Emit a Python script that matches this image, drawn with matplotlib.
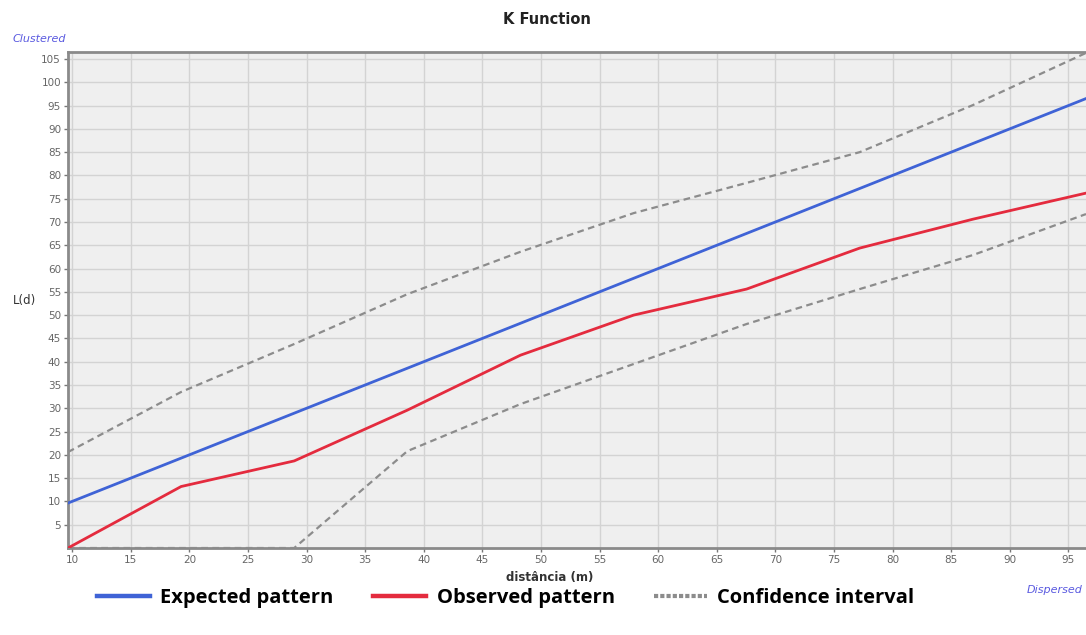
import matplotlib
matplotlib.use("Agg")
import matplotlib.pyplot as plt
from matplotlib.lines import Line2D

distance = [9.65, 19.3, 28.95, 38.6, 48.25, 57.9, 67.55, 77.2, 86.85, 96.5]
expected = [9.65, 19.3, 28.95, 38.6, 48.25, 57.9, 67.55, 77.2, 86.85, 96.5]
observed = [0.0, 13.2, 18.7, 29.6, 41.4, 50.0, 55.6, 64.4, 70.6, 76.2]
ci_upper = [20.6, 33.5, 43.8, 54.5, 63.6, 71.9, 78.4, 85.0, 95.1, 106.3]
ci_lower = [0.0, 0.0, 0.0, 20.8, 30.9, 39.5, 48.1, 55.6, 62.9, 71.7]
x_ticks = list(range(10, 100, 5))
y_ticks = list(range(5, 110, 5))

fig = plt.figure(figsize=(10.86, 6.35), dpi=100)
ax = fig.add_axes([68/1086, 87/635, 1018/1086, 496/635])
ax.set_facecolor("#efefef")

ax.plot(distance, ci_upper, color="#8c8c8c", lw=1.6, ls=(0, (3, 2)), zorder=3, clip_on=False)
ax.plot(distance, ci_lower, color="#8c8c8c", lw=1.6, ls=(0, (3, 2)), zorder=3)
ax.plot(distance, expected, color="#3f63d6", lw=2.0, zorder=4)
ax.plot(distance, observed, color="#e42b3e", lw=2.0, zorder=4)

ax.set_xlim(9.65, 96.5)
ax.set_ylim(0, 106.5)
ax.set_xticks(x_ticks)
ax.set_yticks(y_ticks)
ax.grid(True, color="#d3d3d3", lw=1.0, zorder=0)
ax.set_axisbelow(True)
ax.tick_params(axis="both", labelsize=7.5, colors="#777777", length=3, width=1, pad=2)
for lab in ax.get_xticklabels() + ax.get_yticklabels():
    lab.set_color("#666666")
for s in ["left", "bottom", "top"]:
    ax.spines[s].set_color("#8a8a8a")
    ax.spines[s].set_linewidth(2.0)
ax.spines["right"].set_visible(False)

fig.text(547/1086, 1 - 19/635, "K Function", ha="center", va="center",
         fontsize=10.5, fontweight="bold", color="#222222")
fig.text(13/1086, 1 - 39/635, "Clustered", ha="left", va="center",
         fontsize=8, style="italic", color="#5a5ae0")
fig.text(1083/1086, 1 - 590/635, "Dispersed", ha="right", va="center",
         fontsize=8, style="italic", color="#5a5ae0")
fig.text(25/1086, 1 - 300/635, "L(d)", ha="center", va="center",
         fontsize=8.5, color="#333333")
fig.text(550/1086, 1 - 577/635, "distância (m)", ha="center", va="center",
         fontsize=8.5, fontweight="bold", color="#333333")

handles = [
    Line2D([], [], color="#3f63d6", lw=3.2),
    Line2D([], [], color="#e42b3e", lw=3.2),
    Line2D([], [], color="#8c8c8c", lw=3.0, ls=(0, (1.0, 0.5))),
]
labels = ["Expected pattern", "Observed pattern", "Confidence interval"]
leg = fig.legend(handles, labels, loc="center left", ncol=3,
                 bbox_to_anchor=(97/1086, 1 - 598/635), frameon=False,
                 prop={"family": "Open Sans", "weight": "bold", "size": 14.5},
                 handlelength=2.65, handletextpad=0.5, columnspacing=1.95,
                 borderaxespad=0, borderpad=0)

fig.savefig("out.png", dpi=100)
